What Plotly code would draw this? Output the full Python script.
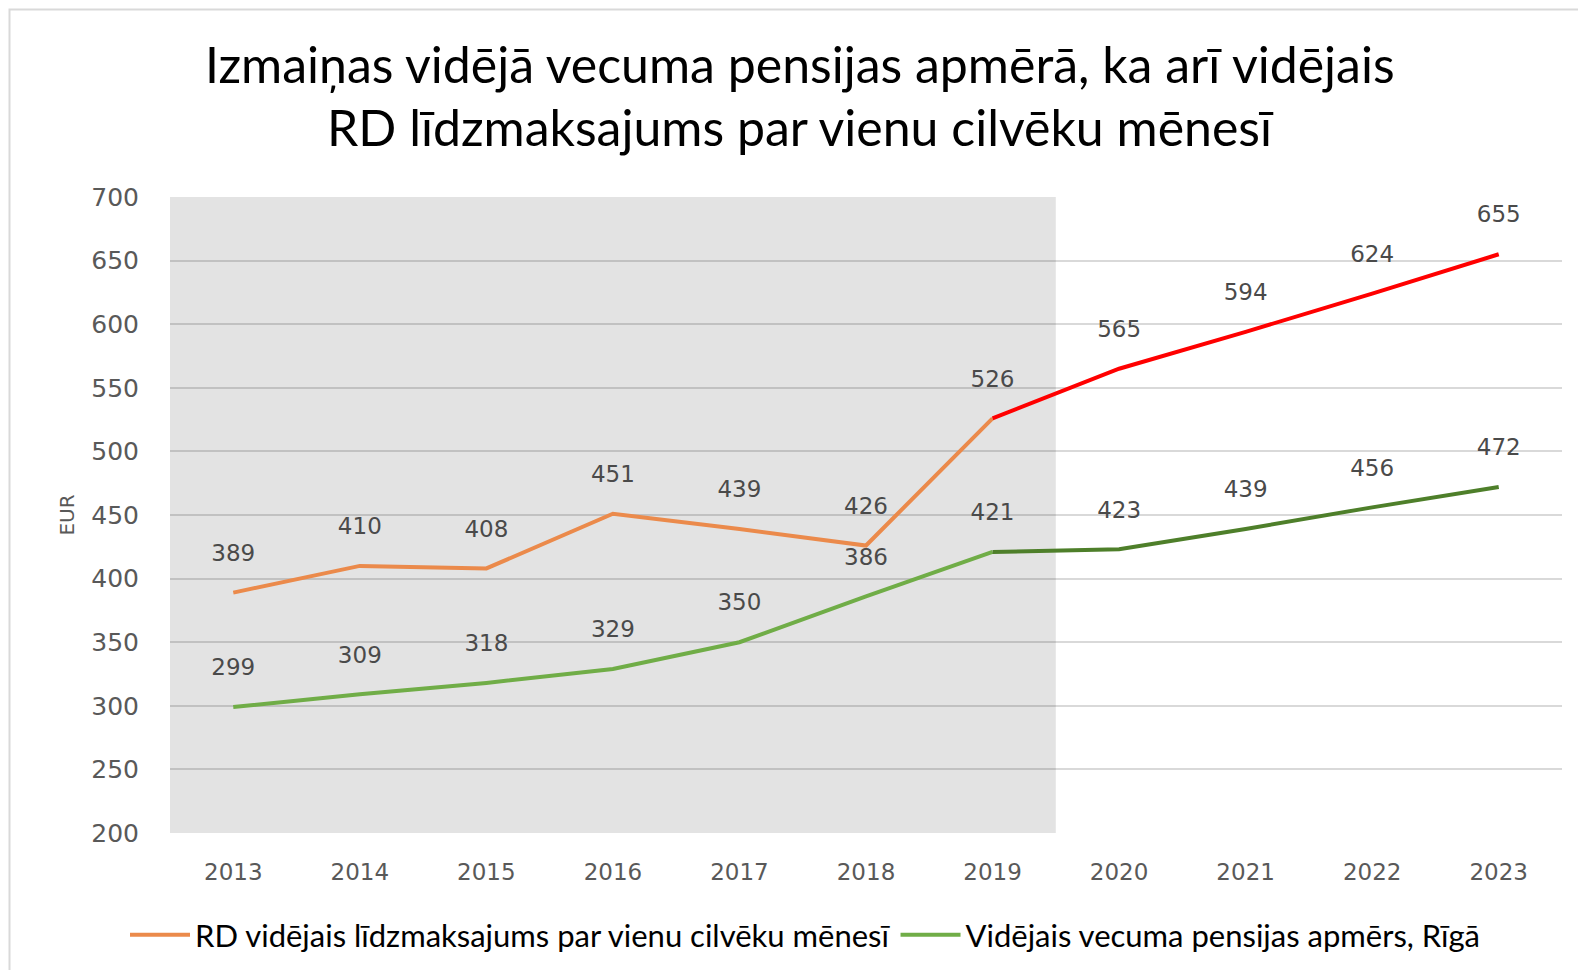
import plotly.graph_objects as go

years = ["2013", "2014", "2015", "2016", "2017", "2018", "2019", "2020", "2021", "2022", "2023"]
rd_values = [389, 410, 408, 451, 439, 426, 526, 565, 594, 624, 655]
pension_values = [299, 309, 318, 329, 350, 386, 421, 423, 439, 456, 472]
y_ticks = [200, 250, 300, 350, 400, 450, 500, 550, 600, 650, 700]

rd_name = "RD vidējais līdzmaksajums par vienu cilvēku mēnesī"
pension_name = "Vidējais vecuma pensijas apmērs, Rīgā"
title_lines = ["Izmaiņas vidējā vecuma pensijas apmērā, ka arī vidējais",
               "RD līdzmaksajums par vienu cilvēku mēnesī"]

split = 6  # index of 2019

ORANGE = "#EB8A4B"
RED = "#FF0000"
LGREEN = "#70AD47"
DGREEN = "#4E7F2A"

# page has an 8px body margin; figure pixel = page pixel - 8
OFF = 8
W, H = 1570, 962
ML, MR, MT, MB = 162, 16, 189, 137
PW, PH = W - ML - MR, H - MT - MB


def px_x(p):
    return (p - OFF - ML) / PW


def px_y(p):
    return 1 + (MT - (p - OFF)) / PH


fig = go.Figure()
fig.add_trace(go.Scatter(x=years[:split + 1], y=rd_values[:split + 1], mode="lines",
                         line=dict(color=ORANGE, width=4), name=rd_name))
fig.add_trace(go.Scatter(x=years[split:], y=rd_values[split:], mode="lines",
                         line=dict(color=RED, width=4), showlegend=False))
fig.add_trace(go.Scatter(x=years[:split + 1], y=pension_values[:split + 1], mode="lines",
                         line=dict(color=LGREEN, width=4), name=pension_name))
fig.add_trace(go.Scatter(x=years[split:], y=pension_values[split:], mode="lines",
                         line=dict(color=DGREEN, width=4), showlegend=False))

label_font = dict(family="DejaVu Sans", size=23, color="#4A4A4A")
for vals in (rd_values, pension_values):
    fig.add_trace(go.Scatter(x=years, y=vals, mode="markers+text", text=[str(v) for v in vals],
                             textposition="top center", textfont=label_font,
                             marker=dict(size=40, color="rgba(0,0,0,0)"),
                             showlegend=False, hoverinfo="skip", cliponaxis=False))

# shaded historical region (translucent so the gridlines stay visible)
fig.add_shape(type="rect", xref="x", yref="y", x0=-0.5, x1=split + 0.5, y0=200, y1=700,
              fillcolor="rgba(0,0,0,0.11)", line=dict(width=0), layer="between")

# outer frame
fig.add_shape(type="rect", xref="paper", yref="paper", x0=px_x(9.5), x1=px_x(1620),
              y0=px_y(1020), y1=px_y(9.5),
              line=dict(color="#D9D9D9", width=2), fillcolor="rgba(0,0,0,0)")

title_font = dict(family="Lato", size=50, color="#000000")
fig.add_annotation(xref="paper", yref="paper", x=px_x(800), y=px_y(64),
                   text=title_lines[0], showarrow=False, font=title_font,
                   xanchor="center", yanchor="middle")
fig.add_annotation(xref="paper", yref="paper", x=px_x(800), y=px_y(127),
                   text=title_lines[1], showarrow=False, font=title_font,
                   xanchor="center", yanchor="middle")

fig.update_layout(
    width=W, height=H,
    margin=dict(l=ML, r=MR, t=MT, b=MB, autoexpand=False),
    plot_bgcolor="white", paper_bgcolor="white",
    showlegend=True,
    legend=dict(orientation="h", x=px_x(805), xanchor="center", y=px_y(935), yanchor="middle",
                font=dict(family="Lato", size=31, color="#000000"),
                itemwidth=60, tracegroupgap=0),
    xaxis=dict(type="category", range=[-0.5, 10.5], showgrid=False, showline=False,
               ticks="", tickfont=dict(family="DejaVu Sans", size=23, color="#595959"),
               ticklabelstandoff=23, automargin=False),
    yaxis=dict(range=[200, 700], tickvals=y_ticks, showgrid=True, gridcolor="#D9D9D9",
               gridwidth=1.5, zeroline=False, showline=False, ticks="",
               tickfont=dict(family="DejaVu Sans", size=25, color="#595959"),
               ticklabelstandoff=30, automargin=False,
               title=dict(text="EUR", font=dict(family="DejaVu Sans", size=20, color="#595959"),
                          standoff=11)),
)

fig.write_html("out.html")
